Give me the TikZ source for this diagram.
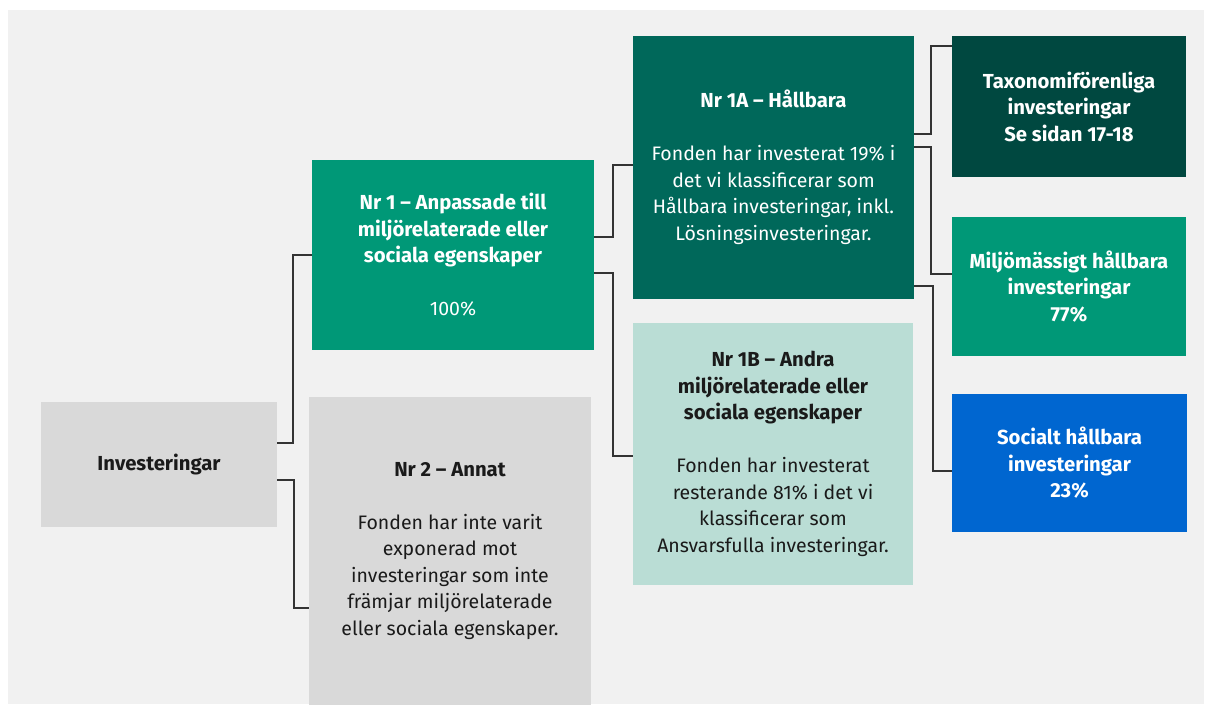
\documentclass[tikz,border=0pt]{standalone}
\usepackage{fontspec}
\setmainfont{Fira Sans}
\newcommand\hd{\fontsize{20.3}{26.5}\selectfont\bfseries}
\begin{document}
\definecolor{panel}{HTML}{F1F1F1}
\definecolor{boxgray}{HTML}{D9D9D9}
\definecolor{green}{HTML}{009877}
\definecolor{darkteal}{HTML}{00685A}
\definecolor{deepteal}{HTML}{004840}
\definecolor{mint}{HTML}{BADDD5}
\definecolor{blue}{HTML}{0066D0}
\definecolor{wire}{HTML}{333333}
\definecolor{ink}{HTML}{1A1A1A}
\begin{tikzpicture}[x=1pt,y=-1pt,
  card/.style={rectangle, inner sep=0pt, align=center,
    font=\fontsize{19.5}{26.5}\selectfont},
  lightcard/.style={card, text=ink},
  darkcard/.style={card, text=white},
  wirepath/.style={draw=wire, line width=1.8pt}]
  % page and panel
  \useasboundingbox (0,0) rectangle (1206,704);
  \fill[white] (0,0) rectangle (1206,704);
  \fill[panel] (8,10) rectangle (1204,704);

  % boxes
  \node[lightcard, fill=boxgray, minimum width=236pt, minimum height=125pt]
    (inv) at (159,464.5) {\hd Investeringar};
  \node[darkcard, fill=green, minimum width=282pt, minimum height=190pt]
    (nr1) at (453,255) {\hd Nr 1 -- Anpassade till\\\hd miljörelaterade eller\\\hd sociala egenskaper\\[26.5pt]100\%};
  \node[lightcard, fill=boxgray, minimum width=282pt, minimum height=308pt]
    (nr2) at (450,551) {\hd Nr 2 -- Annat\\[26.5pt]Fonden har inte varit\\exponerad mot\\investeringar som inte\\främjar miljörelaterade\\eller sociala egenskaper.};
  \node[darkcard, fill=darkteal, minimum width=281pt, minimum height=263pt]
    (n1a) at (773.5,167.5) {\hd Nr 1A -- Hållbara\\[26.5pt]Fonden har investerat 19\% i\\det vi klassificerar som\\Hållbara investeringar, inkl.\\Lösningsinvesteringar.};
  \node[lightcard, fill=mint, minimum width=280pt, minimum height=262pt]
    (n1b) at (773,454) {\hd Nr 1B -- Andra\\\hd miljörelaterade eller\\\hd sociala egenskaper\\[26.5pt]Fonden har investerat\\resterande 81\% i det vi\\klassificerar som\\Ansvarsfulla investeringar.};
  \node[darkcard, fill=deepteal, minimum width=234pt, minimum height=141pt]
    (tax) at (1069,106.5) {\hd Taxonomiförenliga\\\hd investeringar\\\hd Se sidan 17-18};
  \node[darkcard, fill=green, minimum width=234pt, minimum height=139pt]
    (milj) at (1069,286.5) {\hd Miljömässigt hållbara\\\hd investeringar\\\hd 77\%};
  \node[darkcard, fill=blue, minimum width=235pt, minimum height=138pt]
    (soc) at (1069.5,463) {\hd Socialt hållbara\\\hd investeringar\\\hd 23\%};

  % elbow connectors
  \draw[wirepath] (inv.east |- 0,443) -- (293,443) |- (nr1.west);
  \draw[wirepath] (inv.east |- 0,480) -- (294,480) |- (nr2.west |- 0,608);
  \draw[wirepath] (nr1.east |- 0,237) -- (613,237) |- (n1a.west |- 0,165);
  \draw[wirepath] (nr1.east |- 0,273) -- (613,273) |- (n1b.west |- 0,456);
  \draw[wirepath] (n1a.east |- 0,134) -- (931,134) |- (tax.west |- 0,46);
  \draw[wirepath] (n1a.east |- 0,147) -- (931,147) |- (milj.west |- 0,274);
  \draw[wirepath] (n1a.east |- 0,286) -- (933,286) |- (soc.west |- 0,471);
\end{tikzpicture}
\end{document}
